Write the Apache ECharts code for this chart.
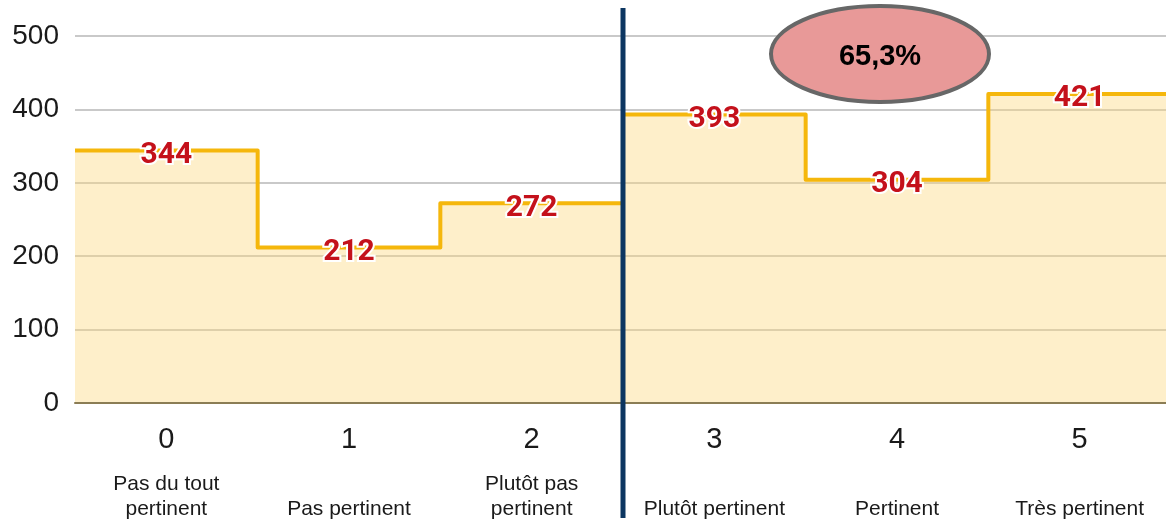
<!DOCTYPE html>
<html><head><meta charset="utf-8">
<script src="https://cdn.jsdelivr.net/npm/echarts@6/dist/echarts.min.js"></script>
<style>html,body{margin:0;padding:0;background:#fff}#c{width:1166px;height:522px}</style>
</head><body><div id="c"></div>
<script>
const categories = ['0', '1', '2', '3', '4', '5'];
const descriptions = ['Pas du tout\npertinent', 'Pas pertinent', 'Plutôt pas\npertinent', 'Plutôt pertinent', 'Pertinent', 'Très pertinent'];
const values = [344, 212, 272, 393, 304, 421];
const yTicks = [0, 100, 200, 300, 400, 500];
const annotationText = '65,3%';
const splitBetween = 2.5; // boundary between category 2 and 3

// Step outline: each category occupies [i-0.5, i+0.5]
const stepData = values.map((v, i) => [i - 0.5, v]);
stepData.push([values.length - 0.5, values[values.length - 1]]);

const chart = echarts.init(document.getElementById('c'));
const option = {
  animation: false,
  grid: { left: 75, width: 1096, top: 36, height: 367, containLabel: false, outerBoundsMode: 'none' },
  xAxis: [
    {
      type: 'category', data: categories, boundaryGap: true,
      axisLine: { show: true, lineStyle: { color: '#8b7d55', width: 2 } },
      axisTick: { show: false },
      axisLabel: { interval: 0, margin: 22, fontFamily: 'Liberation Sans', fontSize: 29, color: '#1a1a1a' },
      z: 5
    },
    {
      type: 'category', data: descriptions, boundaryGap: true, position: 'bottom',
      axisLine: { show: false }, axisTick: { show: false },
      axisLabel: { interval: 0, hideOverlap: false, margin: 119, verticalAlign: 'bottom', fontFamily: 'Liberation Sans', fontSize: 21, lineHeight: 25, color: '#1a1a1a' }
    },
    { type: 'value', min: -0.5, max: categories.length - 0.5, show: false }
  ],
  yAxis: {
    type: 'value', min: yTicks[0], max: yTicks[yTicks.length - 1], interval: 100,
    axisLine: { show: false }, axisTick: { show: false },
    axisLabel: { margin: 16, fontFamily: 'Liberation Sans', fontSize: 28, color: '#1a1a1a', padding: [5, 0, 0, 0] },
    splitLine: { lineStyle: { color: '#c9c9c9', width: 2 } }
  },
  series: [
    {
      type: 'line', xAxisIndex: 2, data: stepData, step: 'end', symbol: 'none',
      lineStyle: { color: '#f5b70c', width: 4, join: 'round' },
      areaStyle: { color: 'rgba(252, 218, 128, 0.6)', origin: 'start' },
      z: 2
    },
    {
      type: 'scatter', xAxisIndex: 0, data: values, symbolSize: 0, z: 10,
      itemStyle: { opacity: 1 },
      label: {
        show: true, position: 'inside', offset: [0, 5], opacity: 1, formatter: p => String(p.value),
        fontFamily: 'Roboto', fontWeight: 'bold', fontSize: 30, color: '#c4111b',
        textBorderColor: '#ffffff', textBorderWidth: 4
      }
    }
  ]
};
chart.setOption(option);

const splitX = chart.convertToPixel({ xAxisIndex: 2 }, splitBetween);
chart.setOption({
  graphic: [
    {
      type: 'line', shape: { x1: splitX, y1: 8, x2: splitX, y2: 518 },
      style: { stroke: '#0c3661', lineWidth: 5 }, z: 100
    },
    {
      type: 'ellipse', shape: { cx: 880, cy: 54, rx: 109, ry: 48 },
      style: { fill: '#e89998', stroke: '#676767', lineWidth: 4 }, z: 100
    },
    {
      type: 'text', x: 880, y: 57, z: 101,
      style: { text: annotationText, fontFamily: 'Liberation Sans', fontWeight: 'bold', fontSize: 29, fill: '#000', align: 'center', verticalAlign: 'middle' }
    }
  ]
});
</script></body></html>
